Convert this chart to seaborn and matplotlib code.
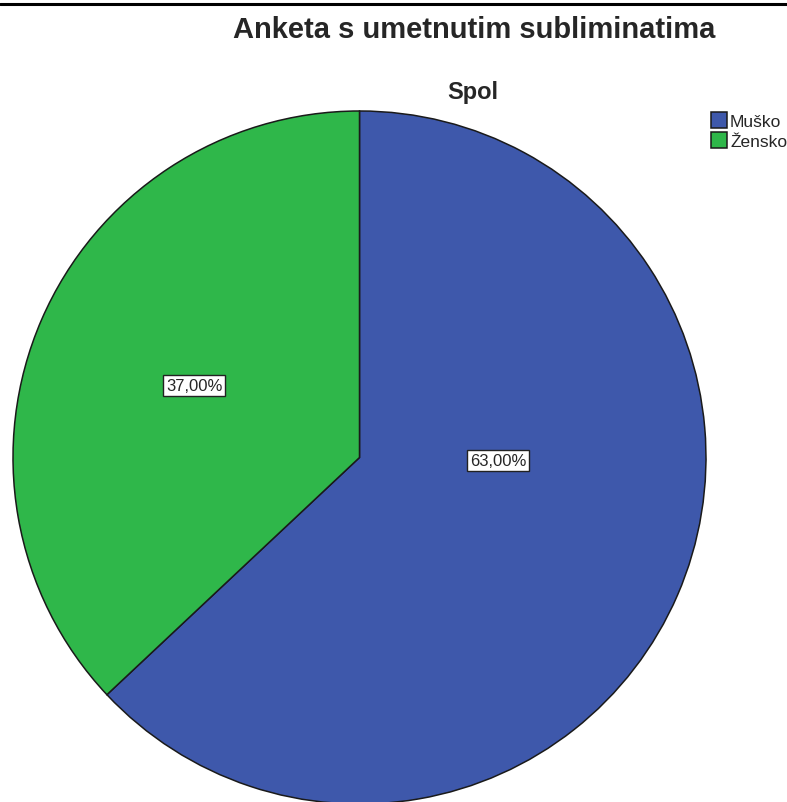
import matplotlib.pyplot as plt
import seaborn as sns
from matplotlib.lines import Line2D

categories = ["Muško", "Žensko"]
shares = [63.0, 37.0]
pct_labels = ["63,00%", "37,00%"]
colors = ["#3e58ab", "#2fb74a"]

sns.set_style("white")
plt.rcParams["font.family"] = ["Liberation Sans", "DejaVu Sans"]

W, H = 787, 803
fig = plt.figure(figsize=(W / 100, H / 100), dpi=100)
ax = fig.add_axes([0, 0, 1, 1])

# pie geometry in pixel units (y up)
cx, cy, r = 359.5, H - 458.5, 346.5
wedges, texts = ax.pie(
    shares, colors=colors, startangle=90, counterclock=False,
    center=(cx, cy), radius=r, labels=pct_labels, labeldistance=0.52,
    wedgeprops=dict(edgecolor="#1a1a1a", linewidth=1.1),
    textprops=dict(fontsize=12, ha="center", va="center",
                   bbox=dict(boxstyle="square,pad=0.18", fc="white", ec="#222222", lw=1)),
)
# SPSS puts the big-slice label closer to the centre
texts[0].set_position((cx + 0.40 * r, cy - 0.009 * r))

ax.set_xlim(0, W)
ax.set_ylim(0, H)
ax.axis("off")

fig.text(474.5 / W, 1 - 30 / H, "Anketa s umetnutim subliminatima", fontsize=21,
         fontweight="bold", ha="center", va="center")
fig.text(473 / W, 1 - 93 / H, "Spol", fontsize=17, fontweight="bold",
         ha="center", va="center")

ax.legend(wedges, categories, loc="upper left", bbox_to_anchor=(711 / W, 1 - 113 / H),
          bbox_transform=fig.transFigure, frameon=False, fontsize=12.5,
          handlelength=0.95, handleheight=1.0, handletextpad=0.15,
          labelspacing=0.2, borderpad=0, borderaxespad=0)

fig.add_artist(Line2D([0, 1], [1 - 5 / H] * 2, transform=fig.transFigure,
                      color="black", lw=2.2))

fig.savefig("out.png", dpi=100)
